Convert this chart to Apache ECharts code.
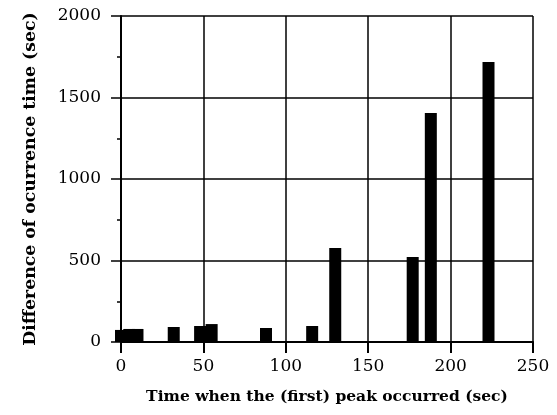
<!DOCTYPE html>
<html>
<head>
<meta charset="utf-8">
<script src="https://cdn.jsdelivr.net/npm/echarts@6/dist/echarts.min.js"></script>
<style>html,body{margin:0;padding:0;background:#fff}#c{width:557px;height:415px}</style>
</head>
<body>
<div id="c"></div>
<script>
// Time when the (first) peak occurred (sec)
var peakTimes = [0, 5, 10, 32, 48, 55, 88, 116, 130, 177, 188, 223];
// Difference of occurrence time (sec)
var diffTimes = [74, 80, 80, 92, 98, 110, 86, 98, 577, 521, 1405, 1718];
var xTicks = [0, 50, 100, 150, 200, 250];
var yTicks = [0, 500, 1000, 1500, 2000];

var chart = echarts.init(document.getElementById('c'));
var data = peakTimes.map(function (t, i) { return [t, diffTimes[i]]; });
var lab = { fontFamily: 'DejaVu Serif', fontSize: 17, color: '#000', formatter: function (v) { return String(v); } };
chart.setOption({
  animation: false,
  backgroundColor: '#fff',
  grid: { left: 121, right: 24, top: 16, bottom: 73 },
  xAxis: {
    type: 'value', min: xTicks[0], max: xTicks[xTicks.length - 1], interval: 50,
    name: 'Time when the (first) peak occurred (sec)',
    nameLocation: 'middle', nameGap: 47,
    nameTextStyle: { fontFamily: 'DejaVu Serif', fontWeight: 'bold', fontSize: 15.5, color: '#000' },
    axisLine: { onZero: false, lineStyle: { color: '#000', width: 2 } },
    axisTick: { length: 11, lineStyle: { color: '#000', width: 2 } },
    axisLabel: Object.assign({ margin: 16 }, lab),
    splitLine: { show: true, lineStyle: { color: '#000', width: 1.5 } }
  },
  yAxis: {
    type: 'value', min: yTicks[0], max: yTicks[yTicks.length - 1], interval: 500,
    name: 'Difference of ocurrence time (sec)',
    nameLocation: 'middle', nameGap: 82,
    nameTextStyle: { fontFamily: 'DejaVu Serif', fontWeight: 'bold', fontSize: 17.3, color: '#000' },
    axisLine: { lineStyle: { color: '#000', width: 2 } },
    axisTick: { length: 10, lineStyle: { color: '#000', width: 1.5 } },
    minorTick: { show: true, splitNumber: 2, length: 4, lineStyle: { color: '#000', width: 1.5 } },
    axisLabel: Object.assign({ margin: 20 }, lab),
    splitLine: { show: true, lineStyle: { color: '#000', width: 1.5 } }
  },
  series: [{
    type: 'bar',
    data: data,
    barWidth: 12,
    itemStyle: { color: '#000' }
  }]
});
</script>
</body>
</html>
